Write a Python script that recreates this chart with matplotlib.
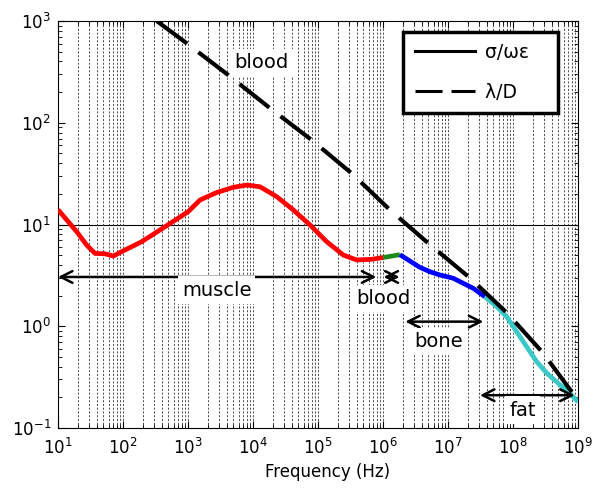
import matplotlib
matplotlib.use('Agg')
import matplotlib.pyplot as plt
from matplotlib.lines import Line2D
from matplotlib.ticker import LogLocator, NullFormatter

# ---- data ----
muscle_f = [10, 19.4, 27.5, 37, 53, 71, 95, 194, 443, 1010, 1530, 2750, 4980,
            8000, 12800, 23100, 41700, 75300, 136000, 245000, 394000, 670000, 1.01e6]
muscle_v = [14.0, 8.5, 6.3, 5.2, 5.15, 4.9, 5.4, 6.78, 9.5, 13.4, 17.4, 20.6, 23.2,
            24.4, 23.5, 18.8, 13.9, 9.9, 6.78, 5.01, 4.48, 4.55, 4.74]
blood_f = [1.01e6, 1.82e6]
blood_v = [4.74, 5.05]
bone_f = [1.82e6, 3.7e6, 5.3e6, 7.5e6, 1.21e7, 1.72e7, 2.45e7, 3.7e7]
bone_v = [5.05, 3.79, 3.43, 3.19, 2.96, 2.64, 2.36, 1.95]
fat_f = [3.7e7, 5.6e7, 8.0e7, 1.14e8, 1.62e8, 2.31e8, 3.3e8, 5.3e8, 7.5e8, 1.0e9]
fat_v = [1.95, 1.56, 1.24, 0.883, 0.63, 0.449, 0.347, 0.265, 0.219, 0.18]

lamD_f = [330, 955, 4170, 18300, 80000, 330000, 1.28e6, 4.92e6, 2.18e7,
          8.1e7, 2.9e8, 8.5e8]
lamD_v = [1000, 604, 294, 139, 67.6, 31.8, 13.9, 6.58, 2.98, 1.35, 0.546, 0.215]

seg_colors = ['#ff0000', '#1a8a1a', '#0000ff', '#3cc8c8']

arrow_f0 = [10, 1.02e6, 2.2e6, 3.1e7]
arrow_f1 = [7.9e5, 1.8e6, 3.5e7, 8.9e8]
arrow_v = [3.05, 3.05, 1.11, 0.21]

label_text = ['blood', 'muscle', 'blood', 'bone', 'fat']
label_f = [1.35e4, 2.75e3, 1.0e6, 7.1e6, 1.4e8]
label_v = [390, 2.27, 1.88, 0.705, 0.15]

legend_labels = ['σ/ωε', 'λ/D']
x_decades = [1, 2, 3, 4, 5, 6, 7, 8, 9]
y_decades = [-1, 0, 1, 2, 3]

# ---- figure ----
plt.rcParams['font.family'] = ['DejaVu Sans']
fig = plt.figure(figsize=(6.16, 4.92), dpi=100)
ax = fig.add_axes([58/616, 64/492, 520/616, 407/492])
ax.set_xscale('log')
ax.set_yscale('log')
ax.set_xlim(10, 1e9)
ax.set_ylim(0.1, 1000)

ax.set_xticks([10.0**e for e in x_decades])
ax.set_yticks([10.0**e for e in y_decades])
ax.xaxis.set_minor_locator(LogLocator(base=10, subs=range(2, 10), numticks=100))
ax.yaxis.set_minor_locator(LogLocator(base=10, subs=range(2, 10), numticks=100))
ax.xaxis.set_minor_formatter(NullFormatter())
ax.yaxis.set_minor_formatter(NullFormatter())
ax.tick_params(which='both', direction='in', top=True, right=True, labelsize=12)
ax.tick_params(which='major', length=5, width=0.8)
ax.tick_params(which='minor', length=3, width=0.6)
ax.tick_params(axis='x', pad=7)
ax.tick_params(axis='y', pad=5)

ax.grid(True, which='both', axis='x', linestyle=(0, (2.5, 2)), linewidth=0.6,
        color='#333333', zorder=0)
ax.axhline(10, color='black', linewidth=0.8, zorder=1)

for fs, vs, c in zip([muscle_f, blood_f, bone_f, fat_f],
                     [muscle_v, blood_v, bone_v, fat_v], seg_colors):
    ax.plot(fs, vs, color=c, linewidth=3.4, solid_joinstyle='round',
            solid_capstyle='butt', zorder=3)

ax.plot(lamD_f, lamD_v, color='black', linewidth=3, dashes=(9.1, 3.4),
        dash_capstyle='butt', zorder=4)

for f0, f1, v in zip(arrow_f0, arrow_f1, arrow_v):
    ax.annotate('', xy=(f1, v), xytext=(f0, v),
                arrowprops=dict(arrowstyle='<->,head_length=0.7,head_width=0.35',
                                lw=1.8, color='black', shrinkA=0, shrinkB=0,
                                mutation_scale=12), zorder=5)

for t, f, v in zip(label_text, label_f, label_v):
    ax.text(f, v, t, fontsize=14, ha='center', va='center', zorder=6,
            bbox=dict(facecolor='white', edgecolor='none', pad=3))

ax.set_xlabel('Frequency (Hz)', fontsize=12)
ax.xaxis.set_label_coords(0.518, -0.085)

handles = [Line2D([], [], color='black', linewidth=2.2),
           Line2D([], [], color='black', linewidth=2.2, dashes=(8.85, 2.95),
                  dash_capstyle='butt')]
leg = ax.legend(handles, [l + '   ' for l in legend_labels], loc='upper left',
                bbox_to_anchor=((403.3-58)/520, (428-31.7)/407),
                borderaxespad=0, fontsize=13.5, handlelength=3.2,
                handletextpad=0.55, borderpad=0.6, labelspacing=1.1,
                fancybox=False, framealpha=1, edgecolor='black')
leg.get_frame().set_linewidth(2.5)
leg.set_zorder(7)

fig.savefig('out.png', dpi=100)
